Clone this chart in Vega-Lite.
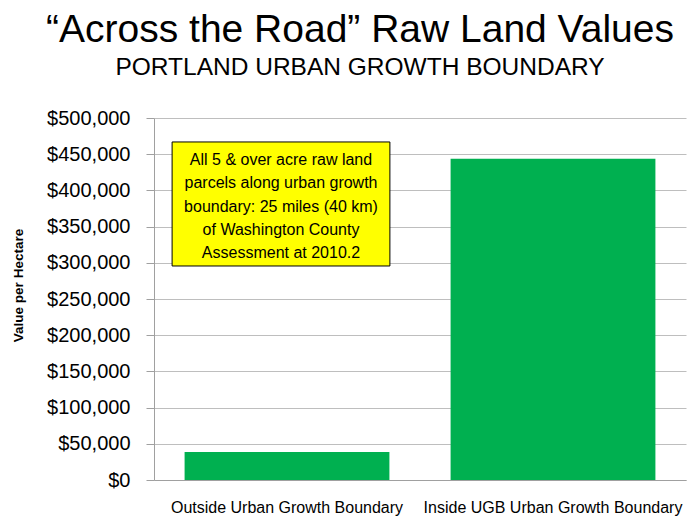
{
  "$schema": "https://vega.github.io/schema/vega-lite/v6.json",
  "autosize": {"type": "none"},
  "width": 532,
  "height": 362,
  "padding": {"left": 154, "top": 118, "right": 2, "bottom": 39},
  "background": "white",
  "title": {
    "text": "“Across the Road” Raw Land Values",
    "subtitle": "PORTLAND URBAN GROWTH BOUNDARY",
    "anchor": "middle",
    "frame": "group",
    "dx": -60,
    "offset": 29,
    "font": "Liberation Sans",
    "fontSize": 39,
    "fontWeight": "normal",
    "color": "black",
    "subtitleFont": "Liberation Sans",
    "subtitleFontSize": 24.5,
    "subtitleColor": "black",
    "subtitlePadding": 6
  },
  "config": {"view": {"stroke": null}, "font": "Liberation Sans"},
  "resolve": {"scale": {"y": "independent"}, "axis": {"y": "independent"}},
  "layer": [
    {
      "data": {"values": [
        {"category": "Outside Urban Growth Boundary", "value": 38700},
        {"category": "Inside UGB Urban Growth Boundary", "value": 443800}
      ]},
      "mark": {"type": "bar", "color": "#00B050"},
      "encoding": {
        "x": {
          "field": "category", "type": "nominal", "sort": null,
          "scale": {"paddingInner": 0.23, "paddingOuter": 0.115},
          "axis": {
            "title": null, "labelAngle": 0, "labelFontSize": 16, "labelColor": "black",
            "labelPadding": 24, "labelLimit": 0, "domainColor": "#A0A0A0", "tickColor": "#A0A0A0",
            "tickSize": -5, "grid": false
          }
        },
        "y": {
          "field": "value", "type": "quantitative",
          "scale": {"domain": [0, 500000], "nice": false},
          "axis": {
            "format": "$,.0f",
            "values": [0, 50000, 100000, 150000, 200000, 250000, 300000, 350000, 400000, 450000, 500000],
            "labelOverlap": false, "labelBound": false,
            "labelFontSize": 20, "labelColor": "black", "labelPadding": 16,
            "tickSize": 8, "tickColor": "#A0A0A0", "domainColor": "#A0A0A0",
            "grid": true, "gridColor": "#BEBEBE",
            "title": "Value per Hectare", "titleFontSize": 13.5, "titleFontWeight": "bold",
            "titleColor": "black", "titlePadding": 21, "titleY": 167
          }
        }
      }
    },
    {
      "data": {"values": [{"note": ["All 5 & over acre raw land", "parcels along urban growth", "boundary: 25 miles (40 km)", "of Washington County", "Assessment at 2010.2"]}]},
      "mark": {"type": "bar", "fill": "#FFFF00", "stroke": "black", "strokeWidth": 1, "width": {"band": 1.0634}, "xOffset": -6},
      "encoding": {
        "x": {"datum": "Outside Urban Growth Boundary", "type": "nominal"},
        "y": {"datum": 295600, "type": "quantitative", "scale": {"domain": [0, 500000], "nice": false}, "axis": null},
        "y2": {"datum": 466900}
      }
    },
    {
      "data": {"values": [{"note": ["All 5 & over acre raw land", "parcels along urban growth", "boundary: 25 miles (40 km)", "of Washington County", "Assessment at 2010.2"]}]},
      "mark": {"type": "text", "align": "center", "baseline": "middle", "fontSize": 16, "lineHeight": 23.3, "xOffset": -6, "color": "black"},
      "encoding": {
        "x": {"datum": "Outside Urban Growth Boundary", "type": "nominal"},
        "y": {"datum": 442000, "type": "quantitative", "scale": {"domain": [0, 500000], "nice": false}, "axis": null},
        "text": {"field": "note"}
      }
    }
  ]
}
